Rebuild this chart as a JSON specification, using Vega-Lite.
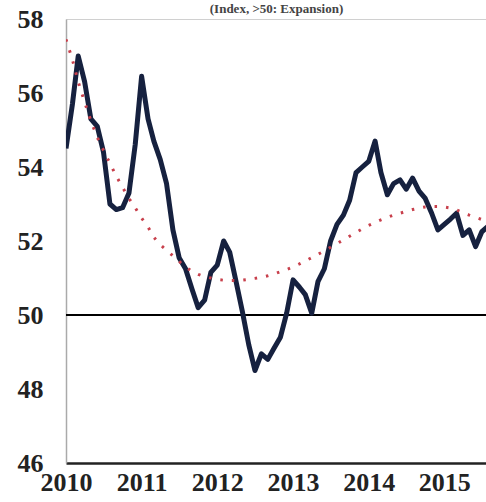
{
  "$schema": "https://vega.github.io/schema/vega-lite/v6.json",
  "width": 421,
  "height": 444,
  "autosize": {"type": "none"},
  "padding": {"left": 66, "top": 19, "right": 0, "bottom": 39},
  "background": "white",
  "title": {
    "text": "(Index, >50: Expansion)",
    "font": "Liberation Serif",
    "fontSize": 13,
    "fontWeight": "bold",
    "color": "#444",
    "anchor": "middle",
    "frame": "group",
    "baseline": "bottom",
    "offset": 0,
    "dy": 23
  },
  "config": {
    "view": {"stroke": "#d0d0d0", "strokeWidth": 1}
  },
  "data": {
    "values": [
      {"date": "2010-01-01", "pmi": 54.5, "trend": 57.45},
      {"date": "2010-02-01", "pmi": 55.7, "trend": 56.9},
      {"date": "2010-03-01", "pmi": 57.0, "trend": 56.3},
      {"date": "2010-04-01", "pmi": 56.3, "trend": 55.75},
      {"date": "2010-05-01", "pmi": 55.3, "trend": 55.25},
      {"date": "2010-06-01", "pmi": 55.1, "trend": 54.8},
      {"date": "2010-07-01", "pmi": 54.4, "trend": 54.45},
      {"date": "2010-08-01", "pmi": 53.0, "trend": 54.1},
      {"date": "2010-09-01", "pmi": 52.85, "trend": 53.75},
      {"date": "2010-10-01", "pmi": 52.9, "trend": 53.45},
      {"date": "2010-11-01", "pmi": 53.3, "trend": 53.15},
      {"date": "2010-12-01", "pmi": 54.6, "trend": 52.9},
      {"date": "2011-01-01", "pmi": 56.45, "trend": 52.62},
      {"date": "2011-02-01", "pmi": 55.3, "trend": 52.38},
      {"date": "2011-03-01", "pmi": 54.7, "trend": 52.1},
      {"date": "2011-04-01", "pmi": 54.2, "trend": 51.9},
      {"date": "2011-05-01", "pmi": 53.56, "trend": 51.75},
      {"date": "2011-06-01", "pmi": 52.3, "trend": 51.6},
      {"date": "2011-07-01", "pmi": 51.55, "trend": 51.45},
      {"date": "2011-08-01", "pmi": 51.25, "trend": 51.3},
      {"date": "2011-09-01", "pmi": 50.7, "trend": 51.18},
      {"date": "2011-10-01", "pmi": 50.2, "trend": 51.1},
      {"date": "2011-11-01", "pmi": 50.4, "trend": 51.04},
      {"date": "2011-12-01", "pmi": 51.15, "trend": 51.0},
      {"date": "2012-01-01", "pmi": 51.35, "trend": 50.96},
      {"date": "2012-02-01", "pmi": 52.0, "trend": 50.94},
      {"date": "2012-03-01", "pmi": 51.7, "trend": 50.93},
      {"date": "2012-04-01", "pmi": 50.9, "trend": 50.93},
      {"date": "2012-05-01", "pmi": 50.1, "trend": 50.94},
      {"date": "2012-06-01", "pmi": 49.2, "trend": 50.96},
      {"date": "2012-07-01", "pmi": 48.5, "trend": 50.99},
      {"date": "2012-08-01", "pmi": 48.95, "trend": 51.02},
      {"date": "2012-09-01", "pmi": 48.8, "trend": 51.06},
      {"date": "2012-10-01", "pmi": 49.1, "trend": 51.11},
      {"date": "2012-11-01", "pmi": 49.4, "trend": 51.17},
      {"date": "2012-12-01", "pmi": 50.05, "trend": 51.23},
      {"date": "2013-01-01", "pmi": 50.95, "trend": 51.3},
      {"date": "2013-02-01", "pmi": 50.75, "trend": 51.38},
      {"date": "2013-03-01", "pmi": 50.55, "trend": 51.46},
      {"date": "2013-04-01", "pmi": 50.05, "trend": 51.55},
      {"date": "2013-05-01", "pmi": 50.9, "trend": 51.64},
      {"date": "2013-06-01", "pmi": 51.25, "trend": 51.73},
      {"date": "2013-07-01", "pmi": 52.0, "trend": 51.83},
      {"date": "2013-08-01", "pmi": 52.45, "trend": 51.93},
      {"date": "2013-09-01", "pmi": 52.7, "trend": 52.03},
      {"date": "2013-10-01", "pmi": 53.1, "trend": 52.13},
      {"date": "2013-11-01", "pmi": 53.85, "trend": 52.23},
      {"date": "2013-12-01", "pmi": 54.0, "trend": 52.33},
      {"date": "2014-01-01", "pmi": 54.15, "trend": 52.42},
      {"date": "2014-02-01", "pmi": 54.7, "trend": 52.5},
      {"date": "2014-03-01", "pmi": 53.85, "trend": 52.57},
      {"date": "2014-04-01", "pmi": 53.25, "trend": 52.64},
      {"date": "2014-05-01", "pmi": 53.55, "trend": 52.7},
      {"date": "2014-06-01", "pmi": 53.65, "trend": 52.75},
      {"date": "2014-07-01", "pmi": 53.4, "trend": 52.8},
      {"date": "2014-08-01", "pmi": 53.7, "trend": 52.85},
      {"date": "2014-09-01", "pmi": 53.35, "trend": 52.89},
      {"date": "2014-10-01", "pmi": 53.15, "trend": 52.92},
      {"date": "2014-11-01", "pmi": 52.75, "trend": 52.93},
      {"date": "2014-12-01", "pmi": 52.3, "trend": 52.93},
      {"date": "2015-01-01", "pmi": 52.45, "trend": 52.92},
      {"date": "2015-02-01", "pmi": 52.6, "trend": 52.89},
      {"date": "2015-03-01", "pmi": 52.75, "trend": 52.84},
      {"date": "2015-04-01", "pmi": 52.15, "trend": 52.77},
      {"date": "2015-05-01", "pmi": 52.3, "trend": 52.7},
      {"date": "2015-06-01", "pmi": 51.85, "trend": 52.64},
      {"date": "2015-07-01", "pmi": 52.25, "trend": 52.58},
      {"date": "2015-08-01", "pmi": 52.4, "trend": 52.52}
    ]
  },
  "encoding": {
    "x": {
      "field": "date",
      "type": "temporal",
      "scale": {
        "type": "utc",
        "domain": [
          {"year": 2010, "month": 1, "date": 1, "utc": true},
          {"year": 2015, "month": 7, "date": 26, "utc": true}
        ]
      },
      "axis": {
        "title": null,
        "values": [
          {"year": 2010, "month": 1, "date": 1, "utc": true},
          {"year": 2011, "month": 1, "date": 1, "utc": true},
          {"year": 2012, "month": 1, "date": 1, "utc": true},
          {"year": 2013, "month": 1, "date": 1, "utc": true},
          {"year": 2014, "month": 1, "date": 1, "utc": true},
          {"year": 2015, "month": 1, "date": 1, "utc": true}
        ],
        "format": "%Y",
        "formatType": "utc",
        "grid": false,
        "ticks": false,
        "domainColor": "#222",
        "domainWidth": 2.5,
        "labelFont": "Liberation Serif",
        "labelFontWeight": "bold",
        "labelFontSize": 26,
        "labelColor": "#222",
        "labelPadding": 6,
        "labelDx": 4,
        "labelFlush": false,
        "labelOverlap": false
      }
    }
  },
  "layer": [
    {
      "mark": {"type": "rule", "color": "#000", "strokeWidth": 2},
      "encoding": {"y": {"datum": 50, "type": "quantitative"}, "x": null}
    },
    {
      "mark": {"type": "line", "color": "#16213f", "strokeWidth": 5, "clip": true, "strokeJoin": "round"},
      "encoding": {
        "y": {
          "field": "pmi",
          "type": "quantitative",
          "scale": {"domain": [46, 58], "nice": false, "zero": false},
          "axis": {
            "title": null,
            "values": [46, 48, 50, 52, 54, 56, 58],
            "grid": false,
            "ticks": false,
            "domainColor": "#aaa",
            "domainWidth": 1.5,
            "labelFont": "Liberation Serif",
            "labelFontWeight": "bold",
            "labelFontSize": 26,
            "labelColor": "#222",
            "labelPadding": 23
          }
        }
      }
    },
    {
      "mark": {"type": "line", "color": "#c8404c", "strokeWidth": 3, "strokeDash": [2.5, 9], "clip": true},
      "encoding": {
        "y": {"field": "trend", "type": "quantitative"}
      }
    }
  ]
}
